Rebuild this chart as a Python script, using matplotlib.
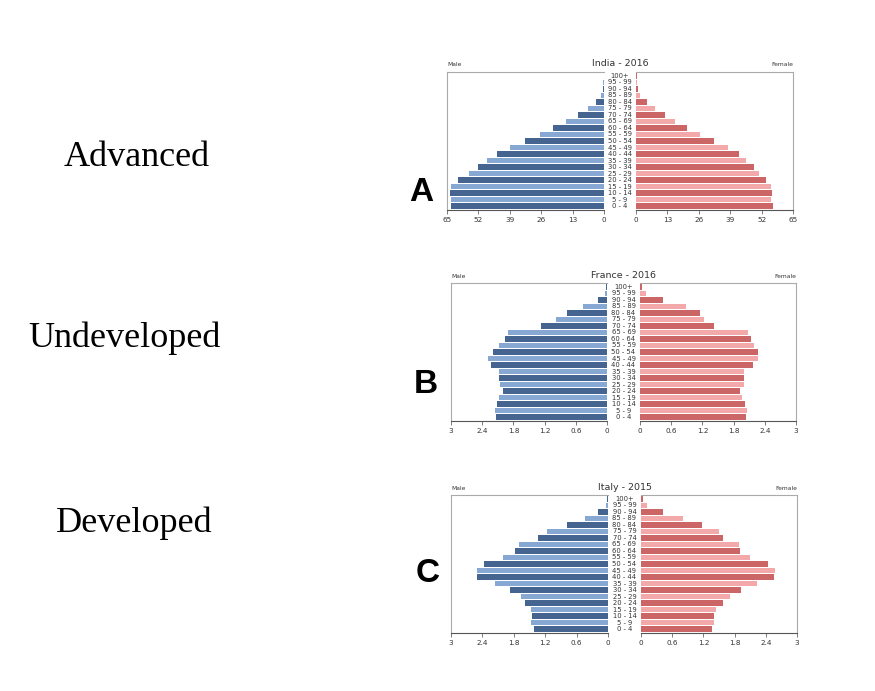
import matplotlib.pyplot as plt

ages = ["0 - 4", "5 - 9", "10 - 14", "15 - 19", "20 - 24", "25 - 29", "30 - 34",
        "35 - 39", "40 - 44", "45 - 49", "50 - 54", "55 - 59", "60 - 64", "65 - 69",
        "70 - 74", "75 - 79", "80 - 84", "85 - 89", "90 - 94", "95 - 99", "100+"]

india_male = [63.3, 63.3, 63.6, 63.3, 60.5, 55.9, 52.3, 48.4, 44.5, 39.1, 32.6,
              26.7, 21.0, 15.6, 10.8, 6.6, 3.2, 1.3, 0.6, 0.3, 0.1]
india_female = [56.6, 56.0, 56.3, 56.0, 53.7, 50.9, 48.7, 45.6, 42.6, 38.0, 32.1,
                26.3, 21.1, 16.2, 12.1, 7.9, 4.5, 1.8, 0.8, 0.4, 0.3]

france_male = [2.13, 2.16, 2.12, 2.07, 2.00, 2.06, 2.07, 2.07, 2.23, 2.28, 2.20,
               2.08, 1.97, 1.90, 1.26, 0.98, 0.76, 0.46, 0.17, 0.04, 0.01]
france_female = [2.03, 2.06, 2.01, 1.97, 1.92, 2.00, 2.00, 2.00, 2.17, 2.27, 2.27,
                 2.20, 2.13, 2.08, 1.43, 1.23, 1.15, 0.88, 0.45, 0.12, 0.03]

italy_male = [1.42, 1.48, 1.45, 1.47, 1.58, 1.67, 1.87, 2.16, 2.51, 2.50, 2.36,
              2.00, 1.77, 1.70, 1.33, 1.16, 0.78, 0.44, 0.19, 0.04, 0.01]
italy_female = [1.36, 1.41, 1.41, 1.45, 1.58, 1.71, 1.92, 2.23, 2.56, 2.57, 2.44,
                2.10, 1.91, 1.88, 1.57, 1.50, 1.17, 0.81, 0.43, 0.11, 0.03]

titles = ["India - 2016", "France - 2016", "Italy - 2015"]
xmax = [65, 3, 3]
xticks = [[0, 13, 26, 39, 52, 65], [0, 0.6, 1.2, 1.8, 2.4, 3], [0, 0.6, 1.2, 1.8, 2.4, 3]]
tick_labels = [["0", "13", "26", "39", "52", "65"],
               ["0", "0.6", "1.2", "1.8", "2.4", "3"],
               ["0", "0.6", "1.2", "1.8", "2.4", "3"]]
row_labels = ["Advanced", "Undeveloped", "Developed"]
letters = ["A", "B", "C"]

male_data = [india_male, france_male, italy_male]
female_data = [india_female, france_female, italy_female]

W, H = 875, 691
fig = plt.figure(figsize=(8.75, 6.91), dpi=100)

# pixel boxes: left x0, zero-left, zero-right, right x1, top, bottom
boxes = [(447, 604, 636, 793, 72, 210),
         (451, 607, 640, 796, 283, 421),
         (451, 608, 641, 797, 495, 633)]
label_pos = [(137, 157), (124, 338), (134, 523)]
letter_pos = [(421, 192), (426, 384), (428, 573)]

dark_m, light_m = "#456590", "#86a8d2"
dark_f, light_f = "#cc6666", "#f3a9a9"

for k in range(3):
    x0, zl, zr, x1, top, bot = boxes[k]
    axl = fig.add_axes([x0 / W, 1 - bot / H, (zl - x0) / W, (bot - top) / H])
    axr = fig.add_axes([zr / W, 1 - bot / H, (x1 - zr) / W, (bot - top) / H])
    y = list(range(len(ages)))
    cm = [dark_m if i % 2 == 0 else light_m for i in y]
    cf = [dark_f if i % 2 == 0 else light_f for i in y]
    axl.barh(y, male_data[k], height=0.82, color=cm)
    axr.barh(y, female_data[k], height=0.82, color=cf)
    axl.set_xlim(xmax[k], 0)
    axr.set_xlim(0, xmax[k])
    for ax in (axl, axr):
        ax.set_ylim(-0.6, len(ages) - 0.4)
        ax.set_yticks([])
        ax.set_xticks(xticks[k])
        ax.set_xticklabels(tick_labels[k], fontsize=5.2, color="#333333")
        ax.tick_params(axis="x", length=3, width=0.6, color="#666666", pad=2)
        for s in ax.spines.values():
            s.set_color("#aaaaaa")
            s.set_linewidth(0.8)
        ax.spines["bottom"].set_color("#555555")
    axl.spines["right"].set_visible(False)
    axr.spines["left"].set_visible(False)
    for i, a in enumerate(ages):
        fig.text((zl + zr) / 2 / W, 1 - (bot - (i + 0.6) * (bot - top) / (len(ages) + 0.2)) / H,
                 a, ha="center", va="center", fontsize=4.9, color="#333333")
    fig.text((zl + zr) / 2 / W, 1 - (top - 8) / H, titles[k], ha="center", va="center",
             fontsize=6.8, color="#333333")
    fig.text(x0 / W, 1 - (top - 7) / H, "Male", ha="left", va="center", fontsize=4.3, color="#333333")
    fig.text(x1 / W, 1 - (top - 7) / H, "Female", ha="right", va="center", fontsize=4.3, color="#333333")
    fig.text(label_pos[k][0] / W, 1 - label_pos[k][1] / H, row_labels[k], ha="center", va="center",
             fontsize=26, family="Liberation Serif")
    fig.text(letter_pos[k][0] / W, 1 - letter_pos[k][1] / H, letters[k], ha="center", va="center",
             fontsize=24, fontweight="bold", family="Liberation Sans")

fig.savefig("out.png", dpi=100)
